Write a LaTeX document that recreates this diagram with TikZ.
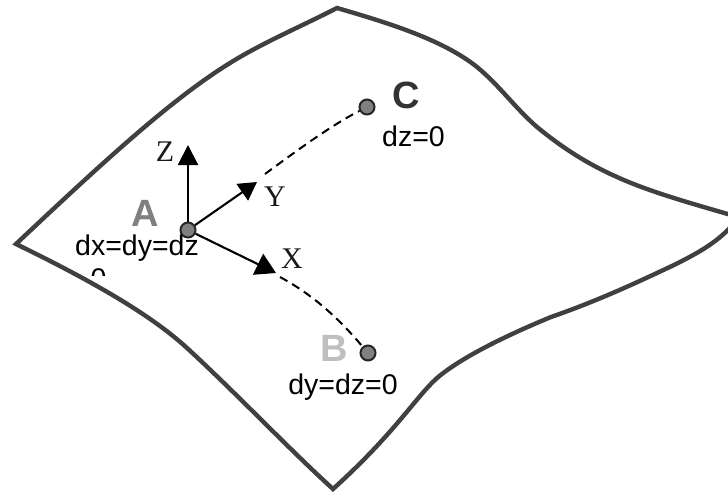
\documentclass[tikz,border=0pt]{standalone}
\usepackage{fontspec}
\setmainfont{Liberation Sans}
\newfontfamily\serifface{Liberation Serif}
\usetikzlibrary{arrows.meta}
\definecolor{edgegray}{RGB}{64,64,64}
\tikzset{
  x=1pt,y=-1pt,
  surface/.style={draw=edgegray,line width=4.4pt,line join=miter,line cap=butt},
  axisline/.style={draw=black,line width=2.1pt},
  pathline/.style={draw=black,line width=2pt,dash pattern=on 8.5pt off 5.5pt},
  pointdot/.style={circle,draw=black!85,line width=2pt,fill=black!50,minimum size=15pt,inner sep=0pt},
  axislabel/.style={font=\serifface\fontsize{30}{30}\selectfont,inner sep=0pt,text=black!90},
  eqlabel/.style={font=\fontsize{28.5}{28.5}\selectfont,inner sep=0pt,text=black},
  pointlabel/.style={font=\bfseries\fontsize{38}{38}\selectfont,inner sep=0pt}
}
\begin{document}
\begin{tikzpicture}
\useasboundingbox (0,0) rectangle (728,491);
\begin{scope}
\clip (0,0) rectangle (728,491);
\draw[surface] (16,244)
  .. controls (100,165) and (170,100) .. (230,63)
  .. controls (262,43) and (300,27) .. (337,8)
  .. controls (385,22) and (442,39) .. (477,67)
  .. controls (500,86) and (515,108) .. (537,127)
  .. controls (565,150) and (590,165) .. (617,177)
  .. controls (650,192) and (690,203) .. (738,217)
  -- (738,218)
  .. controls (722,240) and (700,252) .. (674,265)
  .. controls (640,281) and (600,300) .. (551,317)
  .. controls (510,334) and (463,356) .. (437,378)
  .. controls (415,398) and (395,433) .. (333,489)
  .. controls (290,450) and (235,392) .. (187,348)
  .. controls (150,314) and (90,280) .. cycle;
\end{scope}

\node[pointdot] (A) at (188,230) {};
\node[pointdot] (B) at (368,353) {};
\node[pointdot] (C) at (367,107) {};
\coordinate (Zt) at (188,145);
\coordinate (Yt) at (257,182);
\coordinate (Xt) at (276,273);
\coordinate (Ys) at (265,174);
\coordinate (Xs) at (280,277);

\draw[axisline,-{Triangle[length=20pt,width=20pt]}] (A) -- (Zt);
\draw[axisline,-{Triangle[length=18pt,width=20pt]}] (A) -- (Yt);
\draw[axisline,-{Triangle[length=20pt,width=23pt]}] (A) -- (Xt);
\draw[pathline] (Ys) .. controls (295,152) and (330,126) .. (C);
\draw[pathline] (Xs) .. controls (315,296) and (340,320) .. (B);

\node[axislabel] (lz) at (165,152) {Z};
\node[axislabel] (ly) at (275,197) {Y};
\node[axislabel] (lx) at (292,259) {X};
\node[pointlabel,text=black!50] (la) at (145,213) {A};
\node[pointlabel,text=black!25] (lb) at (334,348) {B};
\node[pointlabel,text=black!80] (lc) at (406,95) {C};
\node[eqlabel] (ea) at (137,248) {dx=dy=dz};
\node[eqlabel] (eb) at (343,387) {dy=dz=0};
\node[eqlabel] (ec) at (413.5,136) {dz=0};
\begin{scope}
\clip (85,264) rectangle (110,275);
\node[eqlabel] (ez) at (98.5,279) {0};
\end{scope}
\end{tikzpicture}
\end{document}
